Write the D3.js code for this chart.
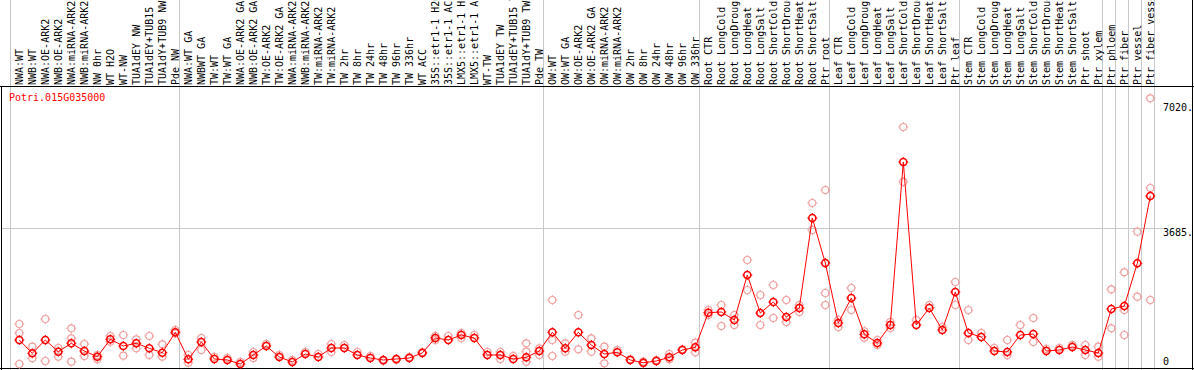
<!DOCTYPE html>
<html>
<head>
<meta charset="utf-8">
<script src="https://cdn.jsdelivr.net/npm/d3@7"></script>
<style>
  body { margin: 0; background: #fff; }
  svg { display: block; font-family: "DejaVu Sans Mono", monospace; }
</style>
</head>
<body>
<div id="chart"></div>
<script>
const geneName = "Potri.015G035000";

const categories = [
    "NWA:WT", "NWB:WT", "NWA:OE-ARK2", "NWB:OE-ARK2", "NWA:miRNA-ARK2", "NWB:miRNA-ARK2", "NW 0hr", "WT H2O", "WT-NW",
    "TUA1dEY NW", "TUA1dEY+TUB15 NW", "TUA1dY+TUB9 NW", "Pde NW",
    "NWA:WT GA", "NWBWT GA", "TW:WT", "TW:WT GA", "NWA:OE-ARK2 GA", "NWB:OE-ARK2 GA", "TW:OE-ARK2", "TW:OE-ARK2 GA",
    "NWA:miRNA-ARK2", "NWB:miRNA-ARK2", "TW:miRNA-ARK2", "TW:miRNA-ARK2", "TW 2hr", "TW 8hr", "TW 24hr", "TW 48hr",
    "TW 96hr", "TW 336hr", "WT ACC", "35S::etr1-1 H2O", "35S::etr1-1 ACC", "LMX5::etr1-1 H2O", "LMX5::etr1-1 ACC",
    "WT-TW", "TUA1dEY TW", "TUA1dEY+TUB15 TW", "TUA1dY+TUB9 TW", "Pde TW",
    "OW:WT", "OW:WT GA", "OW:OE-ARK2", "OW:OE-ARK2 GA", "OW:miRNA-ARK2", "OW:miRNA-ARK2", "OW 2hr", "OW 8hr",
    "OW 24hr", "OW 48hr", "OW 96hr", "OW 336hr",
    "Root CTR", "Root LongCold", "Root LongDrought", "Root LongHeat", "Root LongSalt", "Root ShortCold",
    "Root ShortDrought", "Root ShortHeat", "Root ShortSalt", "Ptr root",
    "Leaf CTR", "Leaf LongCold", "Leaf LongDrought", "Leaf LongHeat", "Leaf LongSalt", "Leaf ShortCold",
    "Leaf ShortDrought", "Leaf ShortHeat", "Leaf ShortSalt", "Ptr leaf",
    "Stem CTR", "Stem LongCold", "Stem LongDrought", "Stem LongHeat", "Stem LongSalt", "Stem ShortCold",
    "Stem ShortDrought", "Stem ShortHeat", "Stem ShortSalt", "Ptr shoot", "Ptr xylem",
    "Ptr phloem", "Ptr fiber", "Ptr vessel", "Ptr fiber vessel"
];

// index where each sample group starts (last one closes the table)
const groupBreaks = [0, 13, 41, 53, 63, 73, 84, 85, 86, 87, 88];

// mean expression per sample
const meanValues = [
    717, 364, 717, 407, 630, 425, 274, 736, 558, 630, 497, 380, 922,
    205, 664, 213, 186, 80, 319, 558, 266, 133, 345, 266, 505, 505, 319, 239, 186, 213, 239, 372,
    771, 717, 850, 771, 319, 319, 213, 258, 425,
    922, 497, 922, 585, 345, 391, 186, 114, 159, 258, 452, 523,
    1443, 1461, 1249, 2444, 1435, 1727, 1329, 1568, 3959, 2763,
    1169, 1833, 870, 638, 1116, 5447, 1116, 1568, 983, 1993,
    903, 797, 425, 399, 850, 877, 425, 452, 531, 452, 372,
    1541, 1621, 2755, 4543
];

// replicate values per sample
const replicateValues = [
    [1143, 903, 80], [539, 231], [1275, 159], [505, 274], [1028, 763, 141], [611, 292], [319, 205], [824, 672],
    [850, 300], [736, 497], [824, 319], [603, 274], [983, 895],
    [319, 114], [770, 452], [266], [239], [133], [399, 239], [611], [319], [186], [399], [345], [611, 399],
    [585], [399], [292], [159], [186], [266], [399], [824, 717], [824], [903, 771], [850], [399], [399, 213],
    [292], [630, 407, 141], [497, 319],
    [1780, 717, 292], [630, 407], [1382, 470], [763, 407], [539, 98], [452], [205], [141, 98], [186],
    [345, 205], [470], [646, 391],
    [1514, 1382], [1647, 1089], [1382, 1116], [2843, 2046], [1913, 1116], [2179, 1302], [1780, 1196],
    [1647, 1461], [4357, 3640], [4703, 1966, 1647],
    [1249, 1063], [2099, 1514], [950, 780], [717, 585], [1196, 1036], [6377, 4916], [1249], [1647], [1063],
    [2258, 1647],
    [1514, 717], [903], [505], [717, 319], [1116], [1302, 664], [478], [505], [585], [585, 319], [539, 274],
    [2065, 1028], [2516, 1514, 850], [3595, 1868], [7139, 4756, 1780]
];

const axisLabels = [0, 3685, 7020];
const axisTexts = ["0", "3685.", "7020."];

const width = 1194;
const height = 370;
const headerBottom = 86.5;
const colWidth = 13;
const colStart = 10.5;

const svg = d3.select("#chart")
    .append("svg")
    .attr("width", width)
    .attr("height", height);

svg.append("rect")
    .attr("width", width)
    .attr("height", height)
    .attr("fill", "#fff");

const x = d3.scaleBand()
    .domain(d3.range(categories.length))
    .range([colStart, colStart + categories.length * colWidth])
    .padding(0);

const cx = i => x(i) + 8.8;

const y = d3.scaleLinear()
    .domain([0, 7370])
    .range([367, 89.6]);

// group separators
svg.append("g")
    .selectAll("line")
    .data(groupBreaks)
    .enter()
    .append("line")
    .attr("x1", d => x(d) === undefined ? colStart + d * colWidth : x(d))
    .attr("x2", d => x(d) === undefined ? colStart + d * colWidth : x(d))
    .attr("y1", 0)
    .attr("y2", height)
    .attr("stroke", "#c8c8c8")
    .attr("stroke-width", 1);

// middle grid line
svg.append("line")
    .attr("x1", 1)
    .attr("x2", 1163)
    .attr("y1", Math.round(y(3685)) + 0.5)
    .attr("y2", Math.round(y(3685)) + 0.5)
    .attr("stroke", "#c8c8c8");

// frame
const frame = svg.append("g").attr("stroke", "#000").attr("stroke-width", 1);
frame.append("line").attr("x1", 0).attr("x2", width).attr("y1", headerBottom).attr("y2", headerBottom);
frame.append("line").attr("x1", 1.5).attr("x2", 1.5).attr("y1", headerBottom).attr("y2", height);
frame.append("line").attr("x1", 0).attr("x2", width).attr("y1", 368.5).attr("y2", 368.5);
frame.append("line").attr("x1", 1192.5).attr("x2", 1192.5).attr("y1", 0).attr("y2", height);

// sample labels
svg.append("g")
    .selectAll("text")
    .data(categories)
    .enter()
    .append("text")
    .attr("transform", (d, i) => `translate(${x(i) + 12.5}, 85) rotate(-90)`)
    .attr("font-size", 10)
    .attr("fill", "#000")
    .text(d => d);

// right side value labels
svg.append("g")
    .selectAll("text")
    .data(axisLabels)
    .enter()
    .append("text")
    .attr("x", 1163)
    .attr("y", d => Math.min(y(d) + 8, 365))
    .attr("font-size", 10)
    .attr("fill", "#000")
    .text((d, i) => axisTexts[i]);

svg.append("text")
    .attr("x", 9)
    .attr("y", 100.5)
    .attr("font-size", 10)
    .attr("fill", "#ff0000")
    .text(geneName);

function drawMarker(g, px, py, color, sw) {
    g.append("circle")
        .attr("cx", px)
        .attr("cy", py)
        .attr("r", 3.5)
        .attr("fill", "none")
        .attr("stroke", color)
        .attr("stroke-width", sw);
    [[0, -1], [0, 1], [-1, 0], [1, 0]].forEach(([dx, dy]) => {
        g.append("line")
            .attr("x1", px + dx * 3.5)
            .attr("y1", py + dy * 3.5)
            .attr("x2", px + dx * 5)
            .attr("y2", py + dy * 5)
            .attr("stroke", color)
            .attr("stroke-width", 1);
    });
}

// replicates
const reps = svg.append("g");
replicateValues.forEach((vals, i) => {
    vals.forEach(v => drawMarker(reps, cx(i), y(v), "#f0a0a0", 1.2));
});

// mean line
const line = d3.line()
    .x((d, i) => cx(i))
    .y(d => y(d));

svg.append("path")
    .datum(meanValues)
    .attr("d", line)
    .attr("fill", "none")
    .attr("stroke", "#ff0000")
    .attr("stroke-width", 1);

const means = svg.append("g");
meanValues.forEach((v, i) => drawMarker(means, cx(i), y(v), "#ff0000", 1.6));
</script>
</body>
</html>
